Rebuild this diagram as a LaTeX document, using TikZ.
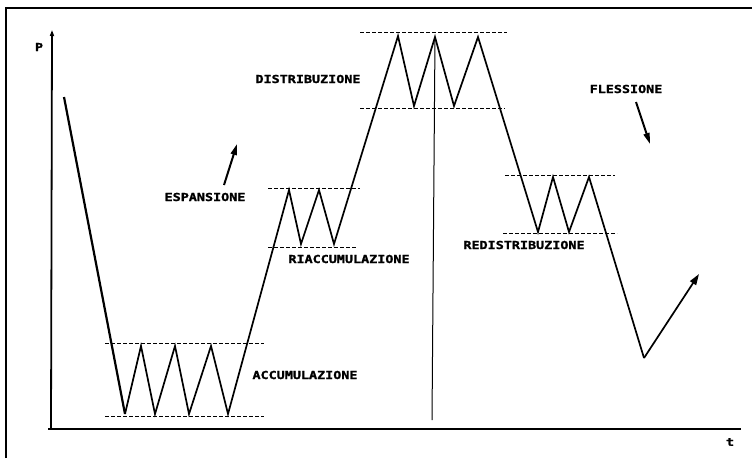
\documentclass[tikz,border=0pt]{standalone}
\usepackage{fontspec}
\usetikzlibrary{arrows.meta}
\newfontfamily\labfont[FakeStretch=1.22,FakeBold=1.6]{DejaVu Sans Mono Bold}
\begin{document}
\begin{tikzpicture}[x=1pt,y=-1pt,
  lab/.style={font=\labfont\fontsize{11}{13}\selectfont, inner sep=0pt, anchor=center},
  price/.style={line width=1.7pt, line join=miter},
  band/.style={line width=0.8pt, dash pattern=on 4pt off 2pt},
  trend/.style={line width=2pt, -{Triangle[length=11pt,width=6pt]}},
  axis/.style={line width=1.8pt}]
\useasboundingbox (0,0) rectangle (752,458);
% frame
\draw[line width=2.2pt] (6,458) -- (6,8) -- (752,8);
% axes
\coordinate (O) at (51,429);
\coordinate (Ytop) at (52,30);
\coordinate (Xend) at (741,429);
\draw[axis] (48,429) -- (Xend);
\draw[axis, -{Triangle[length=6pt,width=4pt]}] (O) -- (Ytop);
\node[lab] (P) at (39,47) {P};
\node[lab] (t) at (730,442) {t};
% bands (dashed)
\coordinate (a1) at (105,343); \coordinate (a2) at (264,343);
\coordinate (a3) at (105,416); \coordinate (a4) at (264,416);
\coordinate (r1) at (268,188); \coordinate (r2) at (360,188);
\coordinate (r3) at (268,247); \coordinate (r4) at (356,247);
\coordinate (d1) at (360,32);  \coordinate (d2) at (507,32);
\coordinate (d3) at (360,108); \coordinate (d4) at (505,108);
\coordinate (e1) at (505,175); \coordinate (e2) at (615,175);
\coordinate (e3) at (503,233); \coordinate (e4) at (617,233);
\draw[band] (a1) -- (a2); \draw[band] (a3) -- (a4);
\draw[band] (r1) -- (r2); \draw[band] (r3) -- (r4);
\draw[band] (d1) -- (d2); \draw[band] (d3) -- (d4);
\draw[band] (e1) -- (e2); \draw[band] (e3) -- (e4);
% price path points
\coordinate (p0) at (64,97);
\coordinate (p1) at (125,414);
\coordinate (p2) at (141,346);
\coordinate (p3) at (155,414);
\coordinate (p4) at (175,346);
\coordinate (p5) at (189,414);
\coordinate (p6) at (211,346);
\coordinate (p7) at (228,414);
\coordinate (p8) at (289,190);
\coordinate (p9) at (301,244);
\coordinate (p10) at (319,190);
\coordinate (p11) at (334,244);
\coordinate (p12) at (398,36);
\coordinate (p13) at (414,106);
\coordinate (p14) at (435,37);
\coordinate (p15) at (454,106);
\coordinate (p16) at (478,37);
\coordinate (p17) at (538,232);
\coordinate (p18) at (553,177);
\coordinate (p19) at (569,232);
\coordinate (p20) at (589,177);
\coordinate (p21) at (644,358);
\coordinate (p22) at (699,274);
\draw[price, line width=2.2pt] (p0) -- (p1);
\draw[price] (p1) -- (p2) -- (p3) -- (p4) -- (p5) -- (p6) -- (p7) -- (p8) -- (p9) -- (p10) -- (p11) -- (p12) -- (p13) -- (p14) -- (p15) -- (p16) -- (p17) -- (p18) -- (p19) -- (p20) -- (p21);
\draw[price, -{Triangle[length=11pt,width=7pt]}] (p21) -- (p22);
% vertical marker
\coordinate (v1) at (432,420);
\draw[line width=1pt] (p14) -- (v1);
% labels
\node[lab] (dist) at (308,79) {DISTRIBUZIONE};
\node[lab] (esp) at (205,197) {ESPANSIONE};
\node[lab] (fle) at (626,89) {FLESSIONE};
\node[lab] (riac) at (349,259) {RIACCUMULAZIONE};
\node[lab] (acc) at (305,375) {ACCUMULAZIONE};
\node[lab] (redi) at (524,245) {REDISTRIBUZIONE};
% trend arrows
\coordinate (es1) at (224,185); \coordinate (es2) at (237,144);
\coordinate (fl1) at (636,102); \coordinate (fl2) at (650,144);
\draw[trend] (es1) -- (es2);
\draw[trend] (fl1) -- (fl2);
\end{tikzpicture}
\end{document}
